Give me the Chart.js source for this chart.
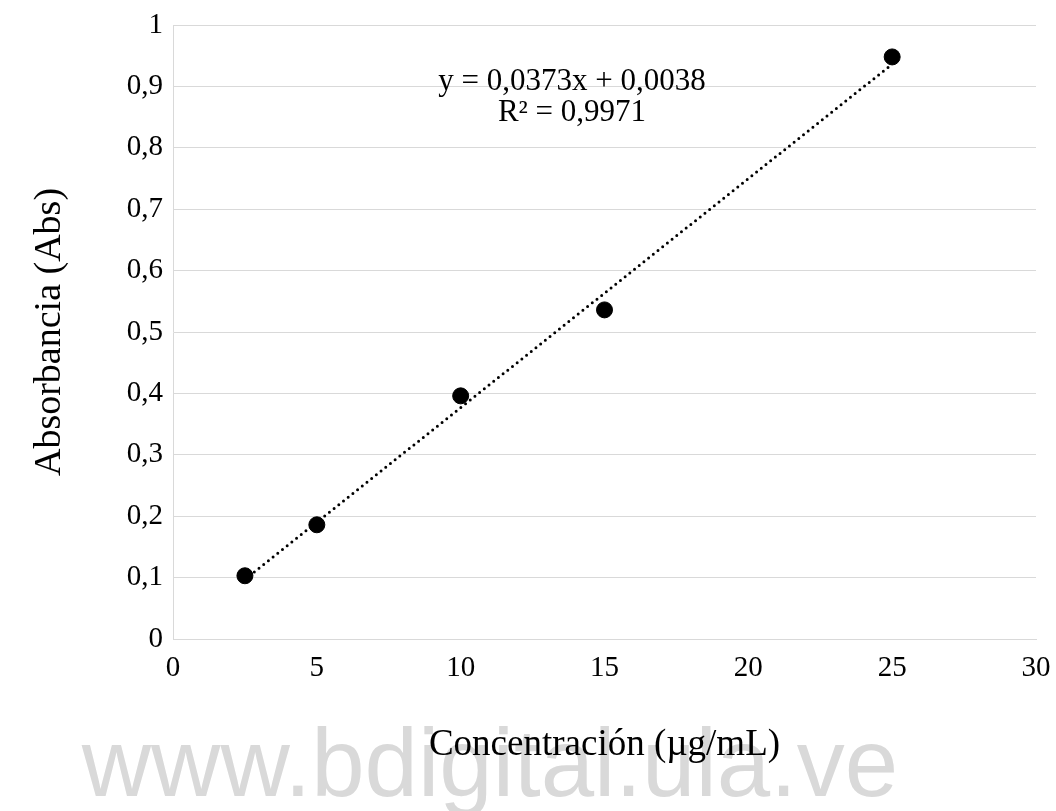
<!DOCTYPE html>
<html>
<head>
<meta charset="utf-8">
<script src="https://cdn.jsdelivr.net/npm/chart.js@4/dist/chart.umd.min.js"></script>
<style>
  html, body { margin: 0; padding: 0; background: #fff; }
  #wrap { width: 1056px; height: 811px; position: relative; }
</style>
</head>
<body>
<div id="wrap"><canvas id="calChart"></canvas></div>
<script>
// calibration points
const concentrations = [2.5, 5, 10, 15, 25];
const absorbances = [0.103, 0.186, 0.396, 0.536, 0.948];

// Excel trendline as printed on the chart
const slope = 0.0373;
const intercept = 0.0038;
const equationLines = ['y = 0,0373x + 0,0038', 'R² = 0,9971'];

const xTickLabels = ['0', '5', '10', '15', '20', '25', '30'];
const yTickLabels = ['0', '0,1', '0,2', '0,3', '0,4', '0,5', '0,6', '0,7', '0,8', '0,9', '1'];

const serif = "'Liberation Serif', 'Times New Roman', serif";

const trendX = [concentrations[0], concentrations[concentrations.length - 1]];

// watermark + equation drawn on the canvas
const overlayPlugin = {
    id: 'overlay',
    beforeDraw(chart) {
        const ctx = chart.ctx;
        ctx.save();
        ctx.font = "96px 'Liberation Sans', Arial, sans-serif";
        ctx.fillStyle = '#d9d9d9';
        ctx.textAlign = 'center';
        ctx.textBaseline = 'alphabetic';
        ctx.fillText('www.bdigital.ula.ve', 490, 796);
        ctx.restore();
    },
    afterDatasetsDraw(chart) {
        const ctx = chart.ctx;
        ctx.save();
        ctx.font = '31px ' + serif;
        ctx.fillStyle = '#000';
        ctx.textAlign = 'center';
        ctx.textBaseline = 'middle';
        ctx.fillText(equationLines[0], 572, 82);
        ctx.fillText(equationLines[1], 572, 113);
        ctx.restore();
    }
};

new Chart(document.getElementById('calChart'), {
    type: 'scatter',
    data: {
        datasets: [{
            label: 'Absorbancia',
            data: concentrations.map((c, i) => ({ x: c, y: absorbances[i] })),
            backgroundColor: '#000',
            borderColor: '#000',
            pointRadius: 8,
            pointHoverRadius: 8,
            order: 1
        }, {
            type: 'line',
            label: 'Lineal',
            data: trendX.map(x => ({ x: x, y: slope * x + intercept })),
            borderColor: '#000',
            borderWidth: 3,
            borderDash: [0, 6],
            borderCapStyle: 'round',
            pointRadius: 0,
            fill: false,
            order: 2
        }]
    },
    options: {
        responsive: true,
        maintainAspectRatio: false,
        animation: false,
        events: [],
        layout: {
            padding: { top: 25, right: 20, bottom: 0, left: 0 }
        },
        plugins: {
            legend: { display: false },
            tooltip: { enabled: false }
        },
        scales: {
            x: {
                type: 'linear',
                min: 0,
                max: 30,
                afterFit: function(scale) {
                    scale.height = 172;
                    scale.paddingRight = 0;
                    scale.paddingLeft = 0;
                },
                grid: { display: false, drawTicks: false },
                border: { display: true, color: '#d9d9d9', width: 1 },
                ticks: {
                    stepSize: 5,
                    padding: 12,
                    color: '#000',
                    font: { family: serif, size: 29 },
                    maxRotation: 0,
                    callback: (v, i) => xTickLabels[i]
                },
                title: {
                    display: true,
                    text: 'Concentración (µg/mL)',
                    color: '#000',
                    font: { family: serif, size: 37 },
                    padding: { top: 0, bottom: 44 }
                }
            },
            y: {
                min: 0,
                max: 1,
                afterFit: function(scale) {
                    scale.width = 173;
                    scale.paddingTop = 0;
                    scale.paddingBottom = 0;
                },
                grid: { color: '#d9d9d9', lineWidth: 1, drawTicks: false },
                border: { display: true, color: '#d9d9d9', width: 1 },
                ticks: {
                    stepSize: 0.1,
                    padding: 10,
                    color: '#000',
                    font: { family: serif, size: 29 },
                    callback: (v, i) => yTickLabels[i]
                },
                title: {
                    display: true,
                    text: 'Absorbancia (Abs)',
                    color: '#000',
                    font: { family: serif, size: 38 },
                    padding: { top: 27, bottom: 0 }
                }
            }
        }
    },
    plugins: [overlayPlugin]
});
</script>
</body>
</html>
